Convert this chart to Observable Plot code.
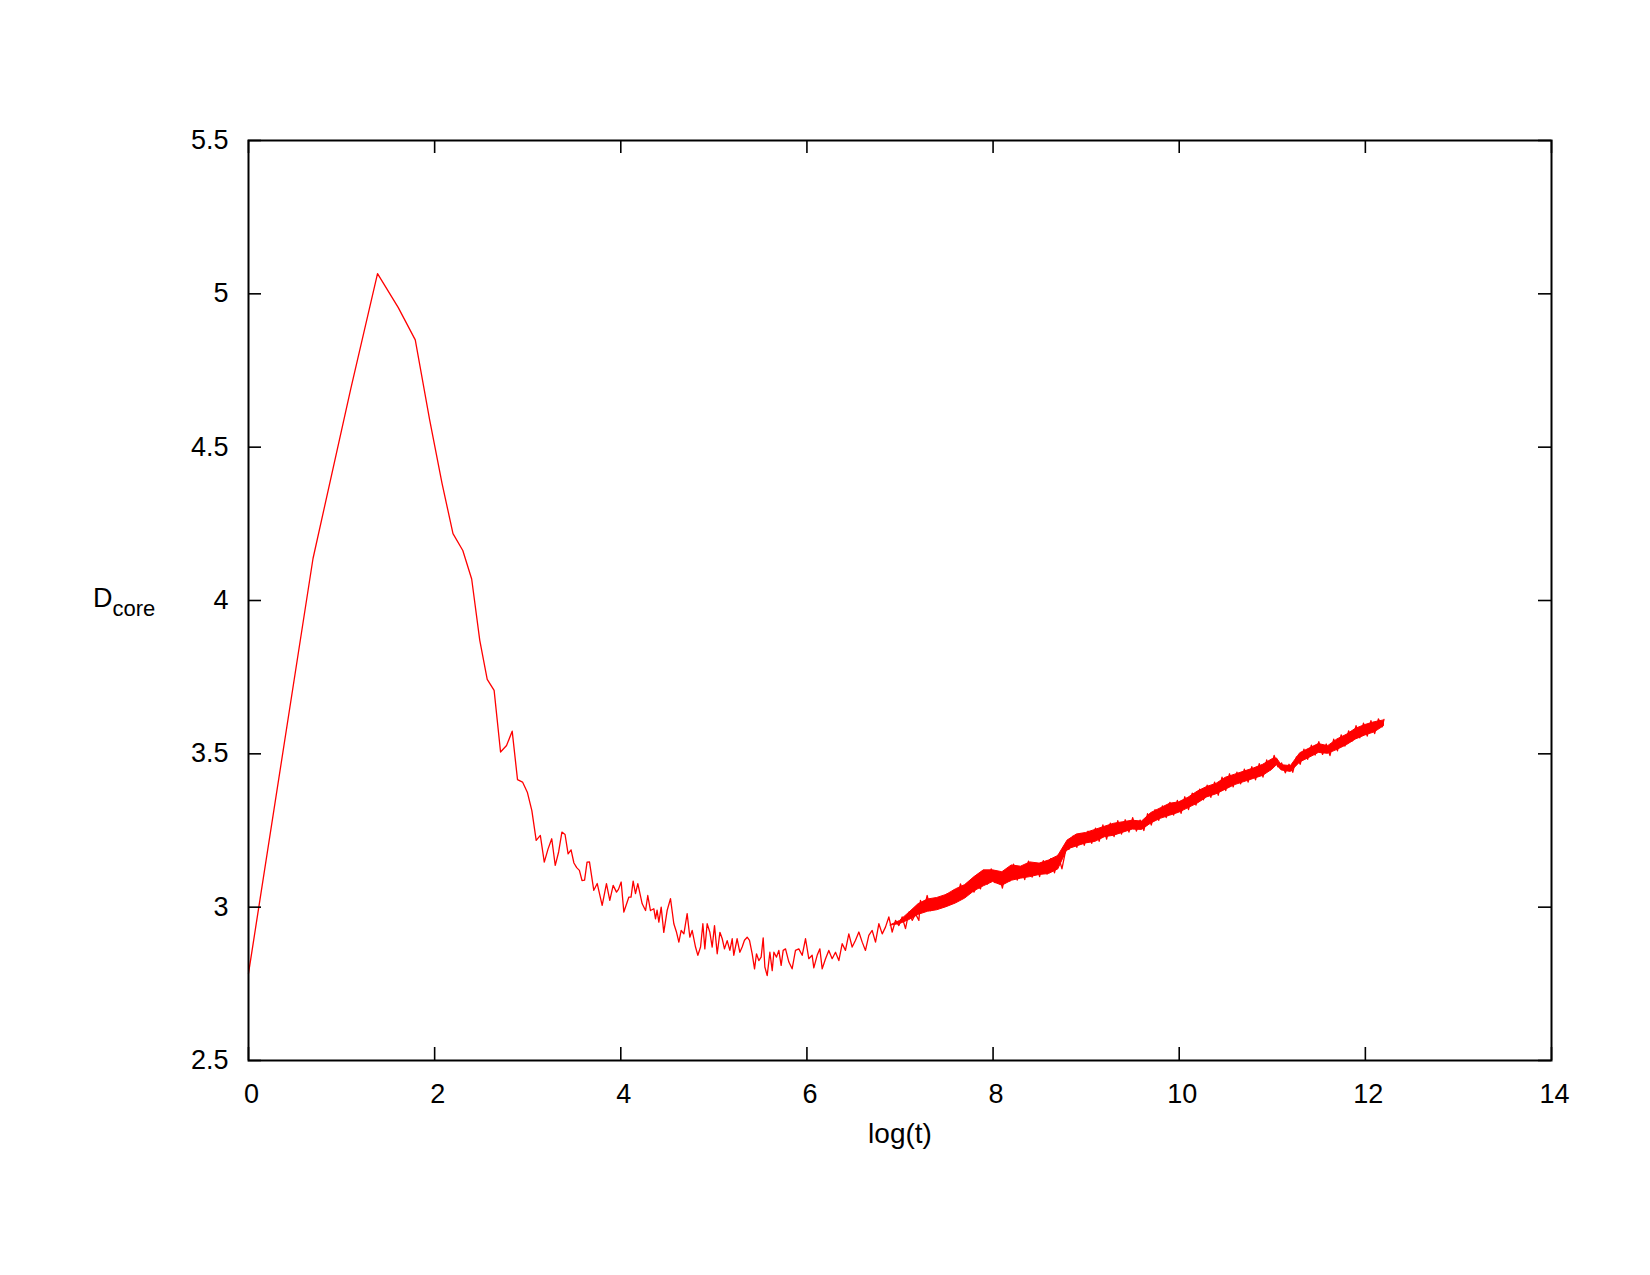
<!DOCTYPE html>
<html><head><meta charset="utf-8">
<script src="https://cdn.jsdelivr.net/npm/d3@7"></script>
<script src="https://cdn.jsdelivr.net/npm/@observablehq/plot@0.6"></script>
<style>body{margin:0;background:#fff;}</style>
</head><body><div id="chart"></div>
<script>
// early samples: integer time steps t, D_core values
const earlyT = [1,2,3,4,5,6,7,8,9,10,11,12,13,14,15,16,17,18,19,20,21,22,23,24,25,26,27,28,29,30,31,32,33,34,35,36,37,38,39];
const earlyD = [2.784,4.137,4.69,5.066,4.955,4.85,4.59,4.382,4.218,4.163,4.07,3.87,3.743,3.707,3.506,3.527,3.574,3.416,3.408,3.375,3.315,3.218,3.234,3.147,3.19,3.223,3.136,3.18,3.245,3.237,3.174,3.187,3.144,3.129,3.12,3.087,3.088,3.147,3.148];

// middle part: log(t) and D_core, noisy trace
const midLogT = [3.710,3.747,3.800,3.846,3.882,3.918,3.954,3.975,4.004,4.033,4.087,4.110,4.133,4.158,4.183,4.230,4.266,4.290,4.319,4.355,4.373,4.390,4.409,4.434,4.462,4.498,4.534,4.570,4.599,4.624,4.649,4.678,4.713,4.742,4.767,4.803,4.828,4.857,4.882,4.903,4.928,4.957,4.982,5.007,5.036,5.065,5.090,5.114,5.143,5.172,5.197,5.214,5.250,5.279,5.304,5.329,5.358,5.383,5.412,5.437,5.458,5.483,5.508,5.530,5.548,5.573,5.602,5.627,5.645,5.673,5.698,5.723,5.745,5.770,5.806,5.841,5.877,5.913,5.949,5.985,6.020,6.056,6.074,6.110,6.139,6.164,6.200,6.235,6.271,6.307,6.343,6.379,6.414,6.450,6.486,6.522,6.558,6.594,6.629,6.665,6.701,6.737,6.773,6.809,6.844,6.880,6.916,6.952,6.988,7.023,7.059,7.095,7.131,7.167,7.203,7.220,7.256,7.292,7.328,7.364,7.400,7.435,7.471,7.507,7.543,7.579,7.614,7.650,7.686,7.722,7.758,7.794,7.829,7.865];
const midD = [3.055,3.077,3.006,3.077,3.022,3.071,3.049,3.058,3.082,2.984,3.033,3.033,3.085,3.044,3.077,3.011,2.989,3.038,2.989,2.995,2.962,2.990,2.951,3.000,2.918,2.989,3.028,2.946,2.918,2.886,2.924,2.913,2.979,2.902,2.924,2.870,2.843,2.870,2.946,2.864,2.946,2.918,2.870,2.940,2.848,2.918,2.897,2.864,2.891,2.859,2.897,2.843,2.897,2.853,2.870,2.892,2.902,2.892,2.848,2.799,2.848,2.826,2.837,2.900,2.805,2.777,2.853,2.793,2.853,2.837,2.859,2.810,2.859,2.864,2.821,2.799,2.859,2.864,2.843,2.897,2.832,2.843,2.802,2.843,2.864,2.799,2.832,2.859,2.832,2.853,2.826,2.881,2.859,2.913,2.870,2.892,2.919,2.886,2.859,2.908,2.924,2.886,2.946,2.913,2.935,2.968,2.919,2.957,2.940,2.968,2.930,2.984,2.957,2.978,2.957,3.022,2.989,3.038,2.989,3.022,3.006,3.022,3.011,3.044,3.017,3.055,3.027,3.076,3.044,3.060,3.082,3.049,3.071,3.060];

// late part: noisy trace continuing the series
const lateLogT = [7.90,7.94,7.98,8.02,8.06,8.10,8.14,8.18,8.22,8.26,8.30,8.34,8.38,8.42,8.46,8.50,8.54,8.58,8.62,8.66,8.70,8.74,8.78,8.82,8.86,8.90,8.94,8.98,9.02,9.06,9.10,9.14,9.18,9.22,9.26,9.30,9.34,9.38,9.42,9.46,9.50,9.54,9.58,9.62,9.66,9.70,9.74,9.78,9.82,9.86,9.90,9.94,9.98,10.02,10.06,10.10,10.14,10.18,10.22,10.26,10.30,10.34,10.38,10.42,10.46,10.50,10.54,10.58,10.62,10.66,10.70,10.74,10.78,10.82,10.86,10.90,10.94,10.98,11.02,11.06,11.10,11.14,11.18,11.22,11.26,11.30,11.34,11.38,11.42,11.46,11.50,11.54,11.58,11.62,11.66,11.70,11.74,11.78,11.82,11.86,11.90,11.94,11.98,12.02,12.06,12.10,12.14,12.18,12.20];
const lateD = [3.120,3.075,3.125,3.080,3.110,3.062,3.118,3.085,3.140,3.088,3.132,3.090,3.150,3.098,3.143,3.100,3.152,3.108,3.158,3.112,3.170,3.125,3.185,3.190,3.232,3.195,3.240,3.202,3.248,3.208,3.258,3.215,3.268,3.222,3.274,3.230,3.282,3.238,3.285,3.245,3.292,3.248,3.284,3.250,3.305,3.268,3.318,3.283,3.330,3.292,3.342,3.300,3.348,3.306,3.360,3.318,3.372,3.333,3.385,3.350,3.398,3.358,3.408,3.365,3.424,3.380,3.435,3.392,3.440,3.402,3.450,3.408,3.458,3.415,3.468,3.424,3.480,3.448,3.495,3.458,3.470,3.438,3.466,3.440,3.490,3.466,3.515,3.482,3.528,3.496,3.540,3.498,3.532,3.494,3.548,3.510,3.562,3.525,3.575,3.542,3.592,3.552,3.600,3.558,3.608,3.566,3.614,3.588,3.612];

// dense core of the noise band: lower and upper envelope
const bandLogT = [6.9,7.0,7.1,7.2,7.3,7.4,7.5,7.6,7.7,7.8,7.9,8.0,8.1,8.2,8.3,8.4,8.5,8.6,8.7,8.8,8.9,9.0,9.1,9.2,9.3,9.4,9.5,9.6,9.7,9.8,9.9,10.0,10.1,10.2,10.3,10.4,10.5,10.6,10.7,10.8,10.9,11.0,11.05,11.1,11.2,11.3,11.4,11.5,11.6,11.7,11.8,11.9,12.0,12.1,12.2];
const bandLo = [2.940,2.945,2.958,2.975,2.985,2.990,3.000,3.012,3.028,3.052,3.068,3.082,3.070,3.086,3.093,3.098,3.105,3.108,3.123,3.188,3.198,3.208,3.213,3.228,3.233,3.243,3.253,3.252,3.273,3.288,3.298,3.308,3.323,3.338,3.358,3.368,3.383,3.398,3.408,3.418,3.428,3.448,3.463,3.446,3.441,3.472,3.487,3.503,3.500,3.513,3.528,3.547,3.560,3.570,3.590];
const bandHi = [2.941,2.955,2.982,3.010,3.025,3.030,3.040,3.058,3.072,3.098,3.120,3.120,3.114,3.136,3.132,3.146,3.142,3.152,3.167,3.217,3.237,3.242,3.252,3.262,3.272,3.277,3.282,3.279,3.307,3.322,3.337,3.342,3.357,3.377,3.392,3.402,3.422,3.432,3.442,3.452,3.464,3.482,3.485,3.463,3.460,3.502,3.517,3.532,3.525,3.547,3.562,3.582,3.594,3.603,3.609];

const xTicks = [0,2,4,6,8,10,12,14];
const yTicks = [2.5,3,3.5,4,4.5,5,5.5];

const lineData = earlyT.map((t, i) => ({x: Math.log(t), y: earlyD[i]}))
  .concat(midLogT.map((x, i) => ({x, y: midD[i]})))
  .concat(lateLogT.map((x, i) => ({x, y: lateD[i]})));
const band = bandLogT.map((x, i) => ({x, lo: bandLo[i], hi: bandHi[i]}));

const W = 1650, H = 1275, mL = 248, mR = 99, mT = 140, mB = 215;
const frameW = W - mL - mR, frameH = H - mT - mB;
const font = "'Liberation Sans', Arial, Helvetica, sans-serif";

const plot = Plot.plot({
  width: W, height: H,
  marginLeft: mL, marginRight: mR, marginTop: mT, marginBottom: mB,
  style: {fontFamily: font, fontSize: "27px", background: "white", color: "black"},
  x: {domain: [0, 14], label: null},
  y: {domain: [2.5, 5.5], label: null},
  marks: [
    Plot.areaY(band, {x: "x", y1: "lo", y2: "hi", fill: "#ff0000", stroke: "#ff0000", strokeWidth: 1}),
    Plot.lineY(lineData, {x: "x", y: "y", stroke: "#ff0000", strokeWidth: 1.3}),
    Plot.tickX(xTicks, {x: d => d, insetTop: frameH - 13, stroke: "black", strokeWidth: 1.6}),
    Plot.tickX(xTicks, {x: d => d, insetBottom: frameH - 13, stroke: "black", strokeWidth: 1.6}),
    Plot.tickY(yTicks, {y: d => d, insetRight: frameW - 13, stroke: "black", strokeWidth: 1.6}),
    Plot.tickY(yTicks, {y: d => d, insetLeft: frameW - 13, stroke: "black", strokeWidth: 1.6}),
    Plot.axisX(xTicks, {tickSize: 0, tickPadding: 23, dx: 3, tickFormat: d => String(d), label: null}),
    Plot.axisY(yTicks, {tickSize: 0, tickPadding: 20, tickFormat: d => String(d), label: null}),
    Plot.frame({stroke: "black", strokeWidth: 2}),
    Plot.text(["log(t)"], {text: d => d, frameAnchor: "bottom", dy: 63, lineAnchor: "top", fontSize: 28})
  ]
});

const yS = plot.scale("y");
const lab = d3.select(plot).append("text")
  .attr("x", 93).attr("y", yS.apply(4) + 7)
  .attr("text-anchor", "start")
  .attr("font-family", font).attr("font-size", 27).attr("fill", "black");
lab.append("tspan").text("D");
lab.append("tspan").attr("font-size", 22).attr("dy", 9).text("core");

document.getElementById("chart").appendChild(plot);
</script>
</body></html>
